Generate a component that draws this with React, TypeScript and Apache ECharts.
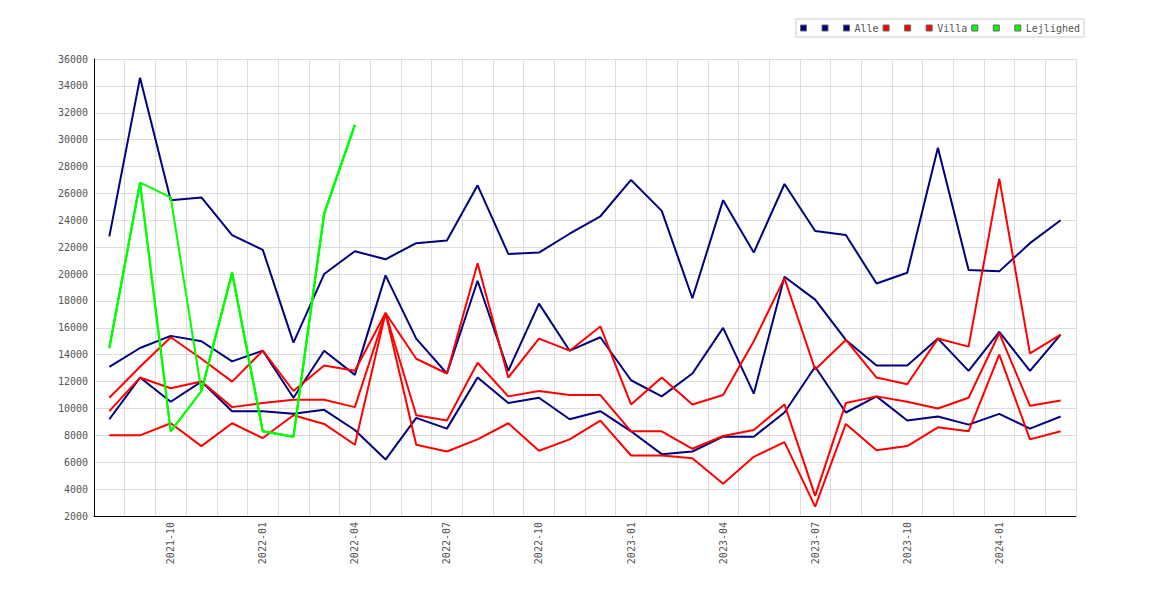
import React, { useEffect, useRef } from "react";
import * as echarts from "echarts";

const months: string[] = [
  "2021-08", "2021-09", "2021-10", "2021-11", "2021-12",
  "2022-01", "2022-02", "2022-03", "2022-04", "2022-05", "2022-06",
  "2022-07", "2022-08", "2022-09", "2022-10", "2022-11", "2022-12",
  "2023-01", "2023-02", "2023-03", "2023-04", "2023-05", "2023-06",
  "2023-07", "2023-08", "2023-09", "2023-10", "2023-11", "2023-12",
  "2024-01", "2024-02", "2024-03",
];

const alleHigh: (number | null)[] = [
  22800, 34600, 25500, 25700, 22900, 21800, 14900, 20000, 21700, 21100, 22300,
  22500, 26600, 21500, 21600, 23000, 24300, 27000, 24700, 18200, 25500, 21600,
  26700, 23200, 22900, 19300, 20100, 29400, 20300, 20200, 22300, 24000,
];
const alleMid: (number | null)[] = [
  13100, 14500, 15400, 15000, 13500, 14300, 10800, 14300, 12500, 19900, 15200,
  12600, 19500, 12800, 17800, 14300, 15300, 12100, 10900, 12600, 16000, 11100,
  19800, 18100, 15100, 13200, 13200, 15200, 12800, 15700, 12800, 15500,
];
const alleLow: (number | null)[] = [
  9200, 12300, 10500, 12000, 9800, 9800, 9600, 9900, 8400, 6200, 9300,
  8500, 12300, 10400, 10800, 9200, 9800, 8300, 6600, 6800, 7900, 7900,
  9700, 13100, 9700, 10900, 9100, 9400, 8800, 9600, 8500, 9400,
];

const villaHigh: (number | null)[] = [
  10800, 13100, 15300, 13700, 12000, 14300, 11300, 13200, 12800, 17100, 13700,
  12600, 20800, 12300, 15200, 14300, 16100, 10300, 12300, 10300, 11000, 15000,
  19700, 12900, 15100, 12300, 11800, 15200, 14600, 27100, 14100, 15500,
];
const villaMid: (number | null)[] = [
  9800, 12300, 11500, 12000, 10100, 10400, 10650, 10650, 10100, 17100, 9500,
  9100, 13400, 10900, 11300, 11000, 11000, 8300, 8300, 7000, 7950, 8400,
  10300, 3500, 10400, 10900, 10500, 10000, 10800, 15600, 10200, 10600,
];
const villaLow: (number | null)[] = [
  8000, 8000, 8900, 7200, 8900, 7800, 9500, 8850, 7300, 17100, 7300,
  6800, 7700, 8900, 6850, 7700, 9100, 6500, 6500, 6300, 4400, 6400,
  7500, 2700, 8850, 6900, 7200, 8600, 8300, 14000, 7700, 8300,
];

const N = null;
const lejlHigh: (number | null)[] = [
  14500, 26800, 25700, 11300, 20100, 8300, 7900, 24500, 31100, N, N,
  N, N, N, N, N, N, N, N, N, N, N, N, N, N, N, N, N, N, N, N, N,
];
const lejlMid: (number | null)[] = [
  14500, 26800, 8300, 11300, 20100, 8300, 7900, 24500, 31100, N, N,
  N, N, N, N, N, N, N, N, N, N, N, N, N, N, N, N, N, N, N, N, N,
];
const lejlLow: (number | null)[] = [
  14500, 26800, 8300, 11300, 20100, 8300, 7900, 24500, 31100, N, N,
  N, N, N, N, N, N, N, N, N, N, N, N, N, N, N, N, N, N, N, N, N,
];

const seriesDefs = [
  { name: "Alle-1", label: " ", color: "#000080", data: alleHigh },
  { name: "Alle-2", label: " ", color: "#000080", data: alleMid },
  { name: "Alle", label: "Alle", color: "#000080", data: alleLow },
  { name: "Villa-1", label: " ", color: "#ff0000", data: villaHigh },
  { name: "Villa-2", label: " ", color: "#ff0000", data: villaMid },
  { name: "Villa", label: "Villa", color: "#ff0000", data: villaLow },
  { name: "Lejlighed-1", label: " ", color: "#00ff00", data: lejlHigh },
  { name: "Lejlighed-2", label: " ", color: "#00ff00", data: lejlMid },
  { name: "Lejlighed", label: "Lejlighed", color: "#00ff00", data: lejlLow },
];

const FONT = "DejaVu Sans Mono";
const TEXT = "#555555";

export default function App() {
  const ref = useRef<HTMLDivElement>(null);
  useEffect(() => {
    if (!ref.current) return;
    const chart = echarts.init(ref.current, undefined, { renderer: "svg" });
    const labelMap: Record<string, string> = {};
    seriesDefs.forEach((s) => (labelMap[s.name] = s.label));
    chart.setOption({
      animation: false,
      backgroundColor: "#ffffff",
      legend: {
        left: 796,
        top: 19,
        padding: [4, 4],
        borderColor: "#cccccc",
        borderWidth: 1,
        icon: "rect",
        itemWidth: 6,
        itemHeight: 6,
        itemGap: 4,
        itemStyle: { borderColor: "#666666", borderWidth: 1 },
        textStyle: { fontFamily: FONT, fontSize: 10, color: TEXT },
        formatter: (name: string) => labelMap[name] ?? name,
        data: seriesDefs.map((s) => s.name),
      },
      grid: { left: 94, right: 94, top: 59, bottom: 84, containLabel: false },
      xAxis: {
        type: "category",
        data: months,
        boundaryGap: true,
        axisLine: { show: true, lineStyle: { color: "#000000", width: 1 } },
        axisTick: { show: false },
        axisLabel: {
          rotate: 90,
          interval: (i: number) => i % 3 === 2,
          margin: 6,
          fontFamily: FONT,
          fontSize: 10,
          color: TEXT,
        },
        splitLine: { show: true, interval: 0, lineStyle: { color: "#dddddd", width: 1 } },
      },
      yAxis: {
        type: "value",
        min: 2000,
        max: 36000,
        interval: 2000,
        axisLine: { show: true, lineStyle: { color: "#000000", width: 1 } },
        axisTick: { show: false },
        axisLabel: {
          margin: 6,
          fontFamily: FONT,
          fontSize: 10,
          color: TEXT,
          formatter: (v: number) => String(v),
        },
        splitLine: { show: true, lineStyle: { color: "#dddddd", width: 1 } },
      },
      series: seriesDefs.map((s) => ({
        name: s.name,
        type: "line",
        data: s.data,
        showSymbol: false,
        symbol: "none",
        connectNulls: false,
        color: s.color,
        lineStyle: { color: s.color, width: 2 },
        emphasis: { disabled: true },
      })),
    });
    return () => chart.dispose();
  }, []);
  return (
    <div
      ref={ref}
      style={{ position: "absolute", left: 0, top: 0, width: 1170, height: 600 }}
    />
  );
}
